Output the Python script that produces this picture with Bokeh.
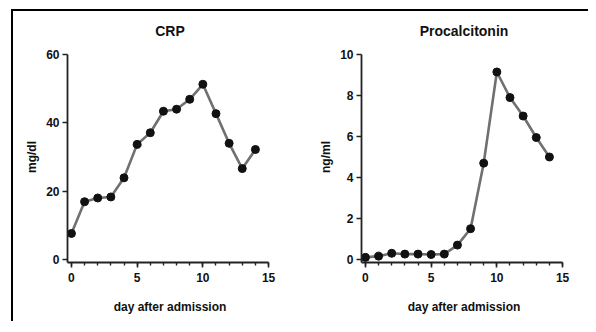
from bokeh.plotting import figure
from bokeh.layouts import row
from bokeh.models import FixedTicker, Range1d
from bokeh.embed import file_html
from bokeh.resources import INLINE

days = list(range(15))
crp = [7.6, 16.9, 18.0, 18.3, 23.9, 33.7, 37.1, 43.4, 44.0, 46.9, 51.3, 42.7, 34.0, 26.6, 32.2]
pct = [0.10, 0.16, 0.30, 0.26, 0.26, 0.24, 0.26, 0.70, 1.50, 4.70, 9.15, 7.90, 7.00, 5.95, 5.00]
x_ticks = [0, 5, 10, 15]
crp_ticks = [0, 20, 40, 60]
pct_ticks = [0, 2, 4, 6, 8, 10]

FONT = "Liberation Sans"


def panel(title, ylabel, yvals, yticks, ypad, width, left, right):
    ymax = yticks[-1]
    p = figure(width=width, height=310, output_backend="svg", toolbar_location=None,
               x_range=Range1d(-0.3, 15.3), y_range=Range1d(-ypad, ymax + ypad),
               min_border_left=left, min_border_right=right,
               min_border_top=40, min_border_bottom=59, title=title)
    p.outline_line_color = None
    p.grid.visible = False
    p.title.align = "center"
    p.title.vertical_align = "top"
    p.title.text_font = FONT
    p.title.text_font_size = "14px"
    p.title.text_font_style = "bold"
    p.title.text_color = "#111111"
    p.title.standoff = 22

    p.line(days, yvals, line_color="#707070", line_width=2.6)
    p.scatter(days, yvals, size=8, fill_color="#111111", line_color="#111111")

    xa = p.xaxis[0]
    xa.ticker = FixedTicker(ticks=x_ticks, minor_ticks=list(range(16)))
    xa.bounds = (-0.3, 15)
    xa.axis_label = "day after admission"
    ya = p.yaxis[0]
    ya.ticker = FixedTicker(ticks=yticks)
    ya.bounds = (-ypad, ymax)
    ya.axis_label = ylabel
    for ax in (xa, ya):
        ax.axis_line_color = "#222222"
        ax.axis_line_width = 1.8
        ax.major_tick_line_color = "#222222"
        ax.major_tick_line_width = 1.6
        ax.major_tick_out = 5
        ax.major_tick_in = 0
        ax.major_label_text_font = FONT
        ax.major_label_text_font_style = "bold"
        ax.major_label_text_font_size = "12px"
        ax.major_label_text_color = "#111111"
        ax.axis_label_text_font = FONT
        ax.axis_label_text_font_style = "bold"
        ax.axis_label_text_color = "#111111"
        ax.axis_label_text_font_size = "12px"
    xa.minor_tick_line_color = "#222222"
    xa.minor_tick_line_width = 1.4
    xa.minor_tick_out = 3
    xa.minor_tick_in = 0
    xa.major_label_standoff = 5
    xa.axis_label_standoff = 15
    ya.minor_tick_line_color = None
    ya.major_label_standoff = 3
    ya.axis_label_standoff = 4
    return p


p1 = panel("CRP", "mg/dl", crp, crp_ticks, 0.9, 292, 54, 33)
p2 = panel("Procalcitonin", "ng/ml", pct, pct_ticks, 0.15, 283, 56, 22)

layout = row(p1, p2, styles={"border-left": "2px solid black", "border-top": "2px solid black",
                             "margin-left": "11px", "margin-top": "9px"})

open("out.html", "w").write(file_html(layout, INLINE))
